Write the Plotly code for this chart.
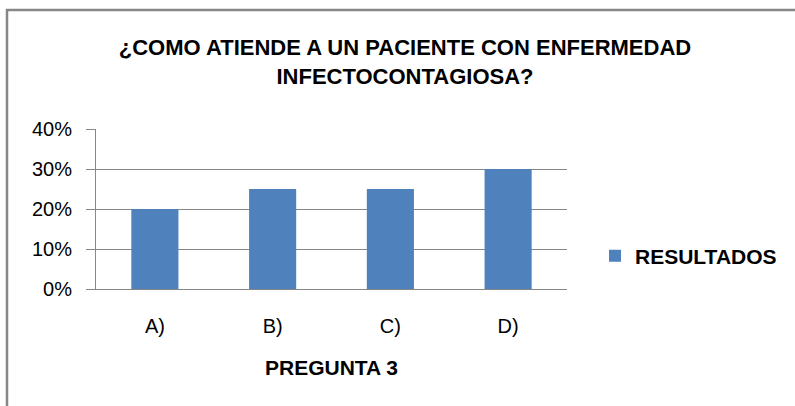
import plotly.graph_objects as go

categories = ["A)", "B)", "C)", "D)"]
resultados = [0.20, 0.25, 0.25, 0.30]
series_name = "RESULTADOS"
title_text = "¿COMO ATIENDE A UN PACIENTE CON ENFERMEDAD<br>INFECTOCONTAGIOSA?"
x_title = "PREGUNTA 3"
y_ticks = [0, 0.1, 0.2, 0.3, 0.4]

FONT = "Liberation Sans"
GRAY = "#878787"

W, H = 795, 406
L, R, T, B = 96, 567, 129, 289
pw, ph = R - L, B - T

def px(x):
    return (x - L) / pw

def py(y):
    return (B - y) / ph

fig = go.Figure()
fig.add_trace(go.Bar(
    x=categories, y=resultados, name=series_name,
    marker=dict(color="#4F81BD", line=dict(width=0)),
    showlegend=True,
))

fig.update_layout(
    width=W, height=H,
    margin=dict(l=L, r=W - R, t=T, b=H - B, pad=0),
    paper_bgcolor="white", plot_bgcolor="white",
    font=dict(family=FONT, color="#000000"),
    bargap=0.6,
    title=dict(
        text="<b>" + title_text + "</b>",
        x=405 / W, xanchor="center",
        y=1 - 55 / H, yanchor="middle",
        font=dict(family=FONT, size=22, color="#000000"),
    ),
    xaxis=dict(
        showline=True, linecolor=GRAY, linewidth=1,
        ticks="", showgrid=False,
        tickfont=dict(family=FONT, size=20, color="#000000"),
        ticklabelstandoff=19,
        title=dict(text="<b>" + x_title + "</b>", standoff=24,
                   font=dict(family=FONT, size=21, color="#000000")),
    ),
    yaxis=dict(
        range=[0, 0.4], tickvals=y_ticks, tickformat=".0%",
        showline=True, linecolor=GRAY, linewidth=1,
        ticks="outside", ticklen=9, tickcolor=GRAY, tickwidth=1,
        showgrid=True, gridcolor=GRAY, gridwidth=1,
        zeroline=False,
        tickfont=dict(family=FONT, size=20, color="#000000"),
        ticklabelstandoff=10,
    ),
    legend=dict(
        x=px(595), xanchor="left",
        y=py(256), yanchor="middle",
        font=dict(family=FONT, size=21, color="#000000", weight="bold"),
        bgcolor="rgba(0,0,0,0)",
    ),
    shapes=[dict(
        type="rect", xref="paper", yref="paper",
        x0=px(7), x1=px(830), y0=py(440), y1=py(10),
        line=dict(color=GRAY, width=2.5), fillcolor="rgba(0,0,0,0)",
        layer="below",
    )],
)

fig.write_html("out.html", config={"displayModeBar": False},
               post_script="document.body.style.margin='0px';")
